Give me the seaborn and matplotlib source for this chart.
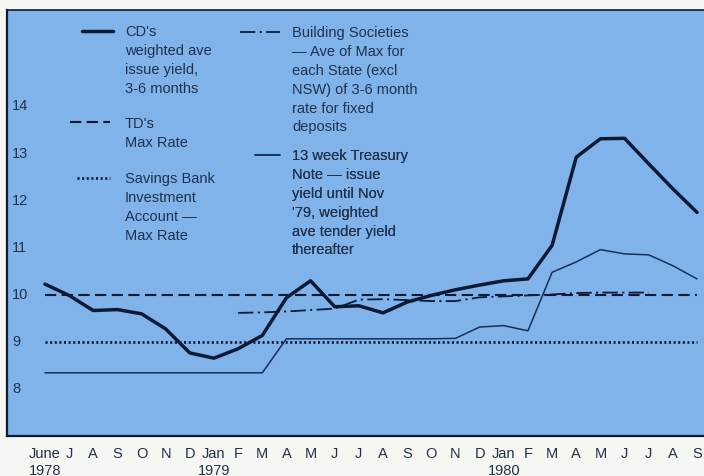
import numpy as np
import matplotlib.pyplot as plt
import seaborn as sns
from matplotlib.legend_handler import HandlerLine2D

#******************
#   Data (monthly from June 1978)
#******************
month_labels = ["June\n1978", "J", "A", "S", "O", "N", "D", "Jan\n1979", "F", "M",
                "A", "M", "J", "J", "A", "S", "O", "N", "D", "Jan\n1980", "F", "M",
                "A", "M", "J", "J", "A", "S"]
months = list(range(len(month_labels)))

cd_yield = [10.18, 9.94, 9.62, 9.64, 9.55, 9.23, 8.72, 8.61, 8.81, 9.09,
            9.89, 10.25, 9.70, 9.72, 9.57, 9.80, 9.94, 10.06, 10.16, 10.25,
            10.29, 11.00, 12.87, 13.26, 13.27, 12.73, 12.20, 11.70]

td_months = [0, 27]
td_max = [9.95, 9.95]

sb_months = [0, 27]
sb_max = [8.96, 8.96]

bs_months = [8, 9, 10, 11, 12, 13, 14, 15, 16, 17, 18, 19, 20, 21, 22, 23, 24, 25]
bs_rate = [9.57, 9.58, 9.60, 9.63, 9.66, 9.85, 9.86, 9.84, 9.82, 9.82,
           9.90, 9.92, 9.94, 9.96, 9.99, 10.00, 10.00, 10.00]

tn_yield = [8.30, 8.30, 8.30, 8.30, 8.30, 8.30, 8.30, 8.30, 8.30, 8.30,
            9.02, 9.02, 9.02, 9.02, 9.02, 9.02, 9.02, 9.03, 9.27, 9.30,
            9.19, 10.43, 10.65, 10.91, 10.82, 10.80, 10.57, 10.29]

y_ticks = [8, 9, 10, 11, 12, 13, 14]

legend_labels = [
    "CD's\nweighted ave\nissue yield,\n3-6 months",
    "TD's\nMax Rate",
    "Savings Bank\nInvestment\nAccount \u2014\nMax Rate",
    "Building Societies\n\u2014 Ave of Max for\neach State (excl\nNSW) of 3-6 month\nrate for fixed\ndeposits",
    "13 week Treasury\nNote \u2014 issue\nyield until Nov\n'79, weighted\nave tender yield\nthereafter",
]

#*******************
#   Aesthetics
#*******************
paper = "#f6f6f3"
blue = "#7fb3ea"
ink = "#0c1a35"
thin_ink = "#16305a"
text_col = "#22314c"
fs = 10.5

sns.set_theme(style="white")
plt.rcParams["font.family"] = ["Liberation Sans", "DejaVu Sans"]

fig = plt.figure(figsize=(7.04, 4.77), dpi=100, facecolor=paper)
ax = fig.add_axes([7 / 704, 40 / 477, 697 / 704, 426 / 477])
ax.set_facecolor(blue)

#*******************
#   Lines
#*******************
sns.lineplot(x=months, y=cd_yield, ax=ax, color=ink, lw=2.5, errorbar=None,
             solid_joinstyle="round")
sns.lineplot(x=td_months, y=td_max, ax=ax, color=ink, lw=1.5, errorbar=None,
             linestyle=(0, (5.4, 2.6)))
sns.lineplot(x=sb_months, y=sb_max, ax=ax, color=ink, lw=1.9, errorbar=None,
             linestyle=(0, (0.8, 0.95)))
sns.lineplot(x=bs_months, y=bs_rate, ax=ax, color=ink, lw=1.3, errorbar=None,
             linestyle=(0, (8.5, 2.4, 1.2, 2.4)))
sns.lineplot(x=months, y=tn_yield, ax=ax, color=thin_ink, lw=1.1, errorbar=None)

#*******************
#   Axes
#*******************
ax.set_xlim(-1.57, 27.29)
ax.set_ylim(6.96, 15.99)
ax.set_xticks(months)
ax.set_xticklabels(month_labels, linespacing=1.2)
ax.set_yticks(y_ticks)
ax.set_yticklabels([str(v) for v in y_ticks])
ax.tick_params(axis="x", direction="out", length=4, width=1.6, pad=3.5,
               labelsize=fs, colors=ink, labelcolor=text_col)
ax.tick_params(axis="y", direction="in", length=4, width=1.2, pad=-3.6,
               labelsize=fs, colors=ink, labelcolor=text_col)
plt.setp(ax.get_yticklabels(), ha="left")
for side in ["left", "bottom"]:
    ax.spines[side].set_color(ink)
    ax.spines[side].set_linewidth(1.6)
ax.spines["top"].set_color(ink)
ax.spines["top"].set_linewidth(1.2)
ax.spines["right"].set_visible(False)
ax.set_xlabel("")
ax.set_ylabel("")


#*******************
#   Legend (handle sits on the first text line)
#*******************
class FirstLineHandler(HandlerLine2D):
    def __init__(self, lift, **kw):
        super().__init__(**kw)
        self.lift = lift

    def create_artists(self, legend, orig_handle, xdescent, ydescent,
                       width, height, fontsize, trans):
        arts = super().create_artists(legend, orig_handle, xdescent, ydescent,
                                      width, height, fontsize, trans)
        for a in arts:
            a.set_ydata(np.asarray(a.get_ydata()) + self.lift)
        return arts


fs_px = fs * 100 / 72
pitch_pt = 13.2
# handle left px, first line centre px, handle length px, text left px
legend_layout = [(82, 30, 31, 125), (70, 122, 40, 125), (77, 177, 33, 125),
                 (240, 31, 40, 292), (255, 154, 25, 292)]
handles = ax.get_lines()
for handle, label, (hx, cy, hl, tx) in zip(handles, legend_labels, legend_layout):
    n = label.count("\n") + 1
    lift = (n - 1) / 2 * pitch_pt + 0.1 * fs
    top = cy - 0.36 * fs_px
    leg = ax.legend([handle], [label], loc="upper left",
                    bbox_to_anchor=((hx - 7) / 697, 1 - (top - 11) / 426),
                    bbox_transform=ax.transAxes, frameon=False,
                    borderpad=0, borderaxespad=0,
                    handlelength=hl / fs_px,
                    handletextpad=(tx - hx - hl) / fs_px,
                    handler_map={handle: FirstLineHandler(lift)},
                    prop={"size": fs}, labelcolor=text_col)
    for t in leg.get_texts():
        t.set_linespacing(1.45)
    ax.add_artist(leg)

fig.savefig("out.png", dpi=100, facecolor=paper)
